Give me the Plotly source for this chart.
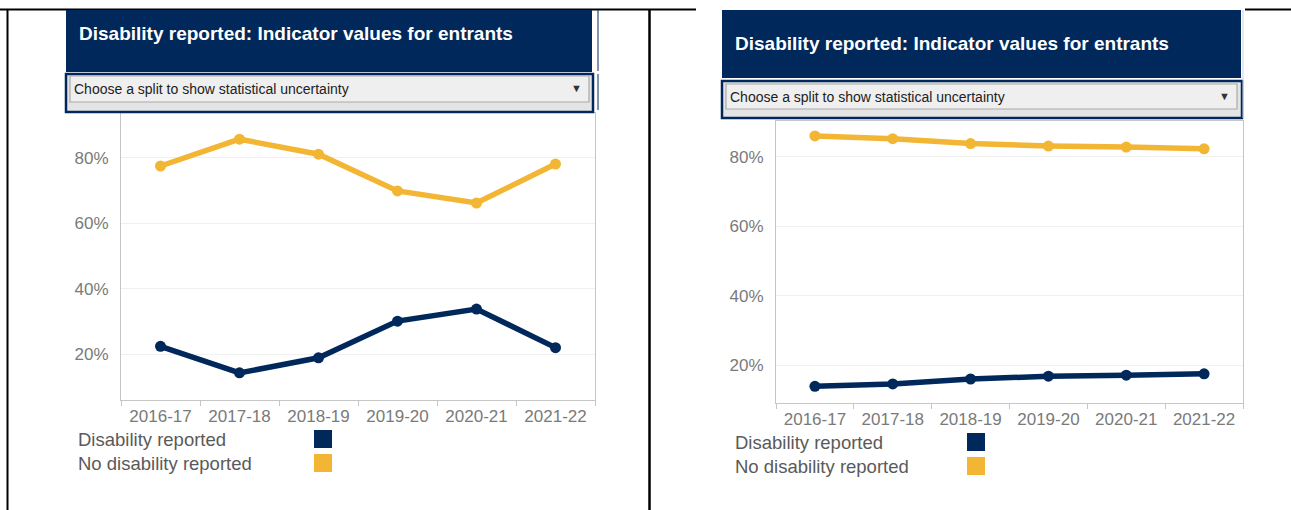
import plotly.graph_objects as go

# ---- data -------------------------------------------------------------
years = ["2016-17", "2017-18", "2018-19", "2019-20", "2020-21", "2021-22"]

left_disability = [22.4, 14.3, 18.9, 30.1, 33.8, 22.0]
left_no_disability = [77.5, 85.7, 81.1, 69.9, 66.2, 78.1]

right_disability = [14.0, 14.7, 16.1, 16.9, 17.2, 17.6]
right_no_disability = [86.0, 85.2, 83.8, 83.1, 82.8, 82.3]

y_ticks = [20, 40, 60, 80]
series_names = ["Disability reported", "No disability reported"]
panel_title = "Disability reported: Indicator values for entrants"
dropdown_text = "Choose a split to show statistical uncertainty"

# ---- styling ----------------------------------------------------------
W, H = 1291, 510
NAVY = "#00285a"
GOLD = "#f3b634"
FONT = "Liberation Sans, Arial, sans-serif"


def px(x):
    return x / W


def py(y):
    return 1 - y / H


fig = go.Figure()

panels = [
    dict(xa="x", ya="y", dis=left_disability, nodis=left_no_disability),
    dict(xa="x2", ya="y2", dis=right_disability, nodis=right_no_disability),
]
for p in panels:
    for vals, color, name in ((p["nodis"], GOLD, series_names[1]),
                              (p["dis"], NAVY, series_names[0])):
        fig.add_trace(go.Scatter(
            x=years, y=vals, mode="lines+markers", name=name,
            xaxis=p["xa"], yaxis=p["ya"], showlegend=False,
            line=dict(color=color, width=5.5),
            marker=dict(color=color, size=11),
            hoverinfo="skip",
        ))

axis_common_x = dict(
    type="category", range=[-0.5, len(years) - 0.5],
    showline=True, linecolor="#c6c6c6", linewidth=1.2,
    mirror=True, ticks="outside", tickson="boundaries", ticklen=5,
    tickcolor="#c6c6c6", showgrid=False, zeroline=False,
    tickfont=dict(family=FONT, size=17, color="#7a7a7a"), fixedrange=True,
)
axis_common_y = dict(
    showline=True, linecolor="#c6c6c6", linewidth=1.2, mirror=True,
    tickvals=y_ticks, ticktext=[f"{v}%" for v in y_ticks],
    showgrid=True, gridcolor="#f0f0f0", gridwidth=1, zeroline=False,
    ticks="", ticklabelstandoff=8,
    tickfont=dict(family=FONT, size=17, color="#7a7a7a"), fixedrange=True,
)

fig.update_layout(
    width=W, height=H, autosize=False,
    margin=dict(l=0, r=0, t=0, b=0, pad=0),
    paper_bgcolor="white", plot_bgcolor="white",
    xaxis=dict(domain=[px(121), px(595)], anchor="y", **axis_common_x),
    yaxis=dict(domain=[py(400), py(113)], anchor="x", range=[6.0, 93.7],
               **axis_common_y),
    xaxis2=dict(domain=[px(776), px(1243)], anchor="y2", **axis_common_x),
    yaxis2=dict(domain=[py(403), py(121)], anchor="x2", range=[9.2, 90.3],
                **axis_common_y),
)

shapes = []
annotations = []


def rect(x0, y0, x1, y1, fill, line_color=None, line_width=0):
    shapes.append(dict(
        type="rect", xref="paper", yref="paper",
        x0=px(x0), x1=px(x1), y0=py(y1), y1=py(y0),
        fillcolor=fill, line=dict(color=line_color or fill, width=line_width),
        layer="above",
    ))


def hline(x0, x1, y, color, width):
    shapes.append(dict(type="line", xref="paper", yref="paper",
                       x0=px(x0), x1=px(x1), y0=py(y), y1=py(y),
                       line=dict(color=color, width=width), layer="above"))


def vline(x, y0, y1, color, width):
    shapes.append(dict(type="line", xref="paper", yref="paper",
                       x0=px(x), x1=px(x), y0=py(y0), y1=py(y1),
                       line=dict(color=color, width=width), layer="above"))


def text(x, y, s, size, color, bold=False, anchor="left"):
    annotations.append(dict(
        xref="paper", yref="paper", x=px(x), y=py(y), text=f"<b>{s}</b>" if bold else s,
        showarrow=False, xanchor=anchor, yanchor="middle",
        font=dict(family=FONT, size=size, color=color),
    ))


# table frame lines
hline(0, 696, 9.5, "black", 2)
hline(1245, W, 9.5, "black", 2)
vline(7.5, 9, H, "black", 2)
vline(649.5, 9, H, "black", 2.5)

# panel headers, dropdown widgets and legends
headers = [
    dict(tx0=66, tx1=592, ty0=10, ty1=72, ty=34,
         dx0=66, dx1=593, dy0=74, dy1=112,
         ix0=70, ix1=589, iy0=76, iy1=102, dty=89, arrow=576,
         lx=76, ly=(439, 463), sx=314),
    dict(tx0=722, tx1=1241, ty0=10, ty1=78, ty=43,
         dx0=722, dx1=1242, dy0=81, dy1=118,
         ix0=726, ix1=1237, iy0=84, iy1=109, dty=97, arrow=1224,
         lx=733, ly=(442, 466), sx=967),
]
for h in headers:
    rect(h["tx0"], h["ty0"], h["tx1"], h["ty1"], NAVY)
    text(h["tx0"] + 11, h["ty"], panel_title, 19, "white", bold=True)
    rect(h["dx0"], h["dy0"], h["dx1"], h["dy1"], "#e4e4e4", NAVY, 2.5)
    rect(h["ix0"], h["iy0"], h["ix1"], h["iy1"], "#efefef", "#a9a9a9", 1.2)
    text(h["ix0"] + 2, h["dty"], dropdown_text, 14, "#222222")
    text(h["arrow"], h["dty"] - 1, "▼", 11, "#333333", anchor="center")
    for name, color, ly in zip(series_names, (NAVY, GOLD), h["ly"]):
        text(h["lx"], ly, name, 18.5, "#5a5a5a")
        rect(h["sx"], ly - 9, h["sx"] + 18, ly + 9, color)

# thin separators beside the headers
vline(598, 10, 71, NAVY, 1)
vline(598, 74, 110, NAVY, 1)
vline(1243, 10, 118, "#c9d3e0", 1)

fig.update_layout(shapes=shapes, annotations=annotations)

fig.write_html("out.html", config={"displayModeBar": False})
